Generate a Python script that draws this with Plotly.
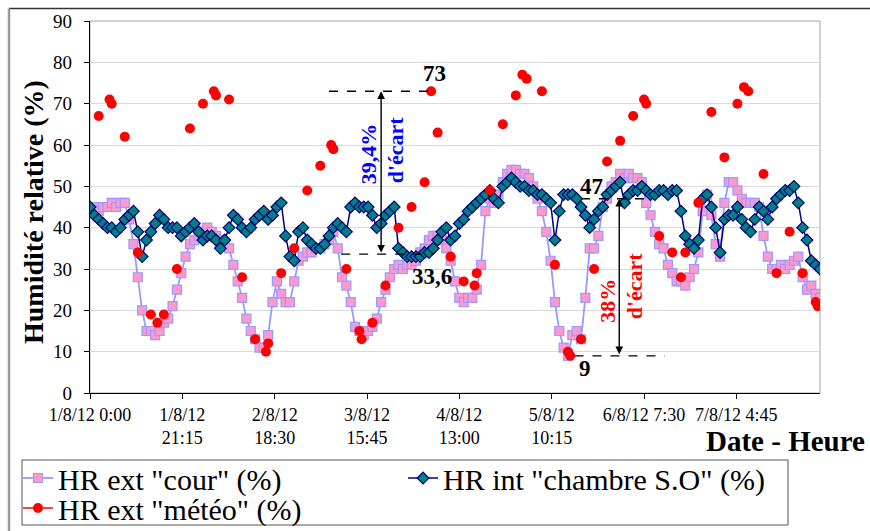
import plotly.graph_objects as go
import pandas as pd

# ---------------- data ----------------
start = pd.Timestamp("2012-08-01 00:00")

# hourly values, 1/8/12 0:00 -> 8/8/12 0:00
hr_cour = [
    45, 45, 44, 45, 45, 46, 45, 46, 46, 42, 36, 28,
    20, 15, 15, 14, 15, 17, 18, 21, 25, 29, 33, 36,
    37, 38, 39, 40, 39, 38, 37, 36, 35, 31, 27, 23,
    18, 15, 13, 11, 11, 14, 22, 27, 24, 22, 22, 27,
    32, 33, 34, 34, 35, 35, 36, 37, 39, 35, 28, 26,
    22, 16, 15, 14, 15, 16, 18, 22, 25, 28, 30, 31,
    30, 31, 31, 32, 34, 35, 37, 38, 38, 37, 35, 32,
    27, 23, 22, 23, 23, 25, 31, 44, 47, 46, 48, 51,
    53, 54, 54, 53, 53, 52, 50, 47, 44, 39, 32, 22,
    15, 11, 9, 14, 15, 13, 23, 35, 35, 38, 45, 47,
    50, 51, 53, 52, 53, 52, 52, 51, 46, 43, 39, 36,
    35, 31, 29, 27, 27, 26, 28, 30, 34, 44, 48, 43,
    36, 33, 46, 51, 51, 49, 47, 46, 46, 46, 45, 38,
    33, 30, 30, 31, 30, 31, 32, 33, 28, 25, 26, 24,
    23,
]

hr_int = [
    45, 43, 42, 41, 40, 40, 39, 40, 42, 43, 44, 39,
    33, 37, 39, 41, 43, 42, 40, 40, 40, 38, 39, 40,
    41, 39, 37, 38, 38, 37, 35, 37, 40, 43, 42, 40,
    39, 40, 42, 43, 44, 42, 43, 45, 46, 38, 33, 32,
    39, 40, 37, 36, 35, 35, 36, 38, 40, 41, 40, 39,
    45, 46, 45, 45, 45, 43, 40, 41, 43, 44, 45, 35,
    34, 33, 33, 33, 33, 34, 34, 35, 37, 39, 40, 37,
    38, 41, 42, 44, 45, 46, 47, 48, 49, 47, 46, 50,
    51, 52, 51, 50, 50, 49, 49, 48, 48, 47, 46, 37,
    44, 48, 48, 48, 47, 45, 43, 40, 42, 44, 45, 48,
    49, 50, 51, 46, 48, 49, 49, 50, 49, 48, 48, 49,
    49, 48, 49, 49, 44, 38, 36, 35, 37, 47, 48, 45,
    40, 34, 42, 43, 43, 45, 42, 40, 39, 42, 45, 44,
    42, 45, 47, 48, 49, 49, 50, 46, 40, 37, 32, 31,
    30,
]

# weather-station readings: hours after 1/8/12 0:00 and value (%)
meteo_hours = [
    2, 4.5, 5, 8, 11, 14, 15.5, 17, 20, 23, 26, 28.5, 29, 32, 35, 38, 40.5, 41,
    44, 47, 50, 53, 55.5, 56, 59, 62, 62.5, 65, 68, 71, 74, 77, 78.5, 80, 83, 86,
    88.5, 89, 92, 95, 98, 99.5, 100.5, 104, 107, 110, 110.5, 113, 116, 119, 122,
    125, 127.5, 128, 131, 134, 136, 137, 140, 143, 146, 149, 150.5, 151.5, 155,
    158, 161, 164, 167, 167.5,
]
meteo_values = [
    67, 71, 70, 62, 34, 19, 17, 19, 30, 64, 70, 73, 72, 71, 28, 13, 10, 12,
    29, 35, 49, 55, 60, 59, 30, 15, 13, 17, 26, 40, 45, 51, 73, 63, 33, 27,
    26, 29, 49, 65, 72, 77, 76, 73, 31, 10, 9, 13, 30, 56, 61,
    67, 71, 70, 38, 34, 28, 34, 46, 68, 57, 70, 74, 73, 53,
    29, 39, 29, 22, 21,
]

tick_times = [
    "2012-08-01 00:00", "2012-08-01 21:15", "2012-08-02 18:30",
    "2012-08-03 15:45", "2012-08-04 13:00", "2012-08-05 10:15",
    "2012-08-06 07:30", "2012-08-07 04:45",
]
tick_labels = [
    "1/8/12 0:00", "1/8/12<br>21:15", "2/8/12<br>18:30", "3/8/12<br>15:45",
    "4/8/12<br>13:00", "5/8/12<br>10:15", "6/8/12 7:30", "7/8/12 4:45",
]

series_names = ['HR ext "cour" (%)', 'HR int "chambre S.O" (%)', 'HR ext "météo" (%)']

# ---------------- helpers ----------------
FONT = "Liberation Serif, Times New Roman, serif"


def at(h):
    return (start + pd.Timedelta(hours=h)).strftime("%Y-%m-%d %H:%M:%S")


times = [at(i) for i in range(len(hr_cour))]

# interleave gaps so the weather series shows only markers in the chart,
# but keeps a line in its legend symbol
mx, my = [], []
for h, v in zip(meteo_hours, meteo_values):
    mx += [at(h), None]
    my += [v, None]

fig = go.Figure()
fig.add_trace(go.Scatter(
    x=times, y=hr_cour, name=series_names[0], mode="lines+markers",
    line=dict(color="#9999FF", width=1.8),
    marker=dict(symbol="square", size=9, color="#FF99CC",
                line=dict(color="#9999FF", width=1.2)),
    legend="legend",
))
fig.add_trace(go.Scatter(
    x=times, y=hr_int, name=series_names[1], mode="lines+markers",
    line=dict(color="#000080", width=1.5),
    marker=dict(symbol="diamond", size=9, color="#008080",
                line=dict(color="#000080", width=1.2)),
    legend="legend",
))
fig.add_trace(go.Scatter(
    x=mx, y=my, name=series_names[2], mode="lines+markers",
    connectgaps=False,
    line=dict(color="#FF0000", width=1.5),
    marker=dict(symbol="circle", size=10, color="#FF0000"),
    legend="legend2",
))

# ---------------- annotations (écarts) ----------------
shapes = []
annots = []


def dashed(h0, h1, yv):
    shapes.append(dict(type="line", xref="x", yref="y", x0=at(h0), x1=at(h1),
                       y0=yv, y1=yv, line=dict(color="black", width=1.3, dash="dash")))


dashed(55, 78.5, 73)
dashed(57.8, 79, 33.6)
dashed(113, 129.3, 47)
dashed(111.5, 132.3, 9)


def arrow(h, y_top, y_bot):
    annots.append(dict(x=at(h), y=y_top, ax=at(h), ay=y_bot, xref="x", yref="y",
                       axref="x", ayref="y", text="", showarrow=True,
                       arrowhead=2, arrowside="end+start", arrowsize=1.1,
                       arrowwidth=1.4, arrowcolor="black", standoff=0, startstandoff=0))


arrow(67, 73, 33.6)
arrow(121.8, 47, 9)


def label(h, yv, txt, size=23, color="black", angle=0):
    annots.append(dict(x=at(h), y=yv, xref="x", yref="y", text="<b>%s</b>" % txt,
                       showarrow=False, textangle=angle, xanchor="center", yanchor="middle",
                       font=dict(family=FONT, size=size, color=color)))


label(79.3, 77.2, "73")
label(78.6, 28.3, "33,6")
label(115.4, 49.9, "47")
label(114, 6, "9")
label(64, 57.8, "39,4%", size=22, color="#0000FF", angle=-90)
label(70.5, 58.8, "d'écart", size=22, color="#0000FF", angle=-90)
label(119.2, 22.3, "38%", size=22, color="#FF0000", angle=-90)
label(125.5, 25.9, "d'écart", size=22, color="#FF0000", angle=-90)

px = lambda p: (p - 90) / 730
py = lambda p: (393 - p) / 372

# axis titles
annots.append(dict(xref="paper", yref="paper", x=px(33), y=py(212),
                   text="<b>Humidité relative (%)</b>", showarrow=False, textangle=-90,
                   xanchor="center", yanchor="middle",
                   font=dict(family=FONT, size=28, color="black")))
annots.append(dict(xref="paper", yref="paper", x=px(867), y=py(441),
                   text="<b>Date - Heure</b>", showarrow=False,
                   xanchor="right", yanchor="middle",
                   font=dict(family=FONT, size=29, color="black")))

# plot-area border (gray, top/right) and chart-area border
shapes.append(dict(type="rect", xref="paper", yref="paper", x0=0, x1=1, y0=0, y1=1,
                   line=dict(color="#a6a6a6", width=1), layer="below"))
shapes.append(dict(type="line", xref="paper", yref="paper", x0=px(9), x1=px(872),
                   y0=py(8.5), y1=py(8.5), line=dict(color="#333333", width=1.5)))
shapes.append(dict(type="line", xref="paper", yref="paper", x0=px(9), x1=px(9),
                   y0=py(8.5), y1=py(535), line=dict(color="#999999", width=2.5)))
# legend frame
shapes.append(dict(type="rect", xref="paper", yref="paper", x0=px(22), x1=px(788),
                   y0=py(460), y1=py(525), line=dict(color="#555555", width=1)))

fig.update_layout(
    width=870, height=531,
    margin=dict(l=90, r=50, t=21, b=138, autoexpand=False),
    paper_bgcolor="white", plot_bgcolor="white",
    font=dict(family=FONT, color="black"),
    shapes=shapes, annotations=annots,
    legend=dict(orientation="h", x=px(18), y=py(478), xanchor="left", yanchor="middle",
                bgcolor="rgba(0,0,0,0)", borderwidth=0, entrywidth=340,
                entrywidthmode="pixels", itemwidth=30,
                font=dict(family=FONT, size=30, color="black")),
    legend2=dict(orientation="h", x=px(18), y=py(508), xanchor="left", yanchor="middle",
                 bgcolor="rgba(0,0,0,0)", borderwidth=0, itemwidth=30,
                 font=dict(family=FONT, size=30, color="black")),
    xaxis=dict(type="date", range=[at(0), at(168)], tickvals=tick_times, ticktext=tick_labels,
               tickangle=0, ticks="outside", ticklen=5, tickcolor="black",
               showline=True, linecolor="black", linewidth=1.3, showgrid=False,
               zeroline=False, ticklabelstandoff=0,
               tickfont=dict(family=FONT, size=18, color="black")),
    yaxis=dict(range=[0, 90], dtick=10, tick0=0, ticks="outside", ticklen=5,
               tickcolor="black", showline=True, linecolor="black", linewidth=1.3,
               showgrid=True, gridcolor="#d9d9d9", gridwidth=1, zeroline=False,
               ticklabelstandoff=8,
               tickfont=dict(family=FONT, size=19, color="black")),
)

fig.write_html("out.html", config={"displayModeBar": False},
               post_script="document.body.style.margin='0px';document.body.style.overflow='hidden';")
